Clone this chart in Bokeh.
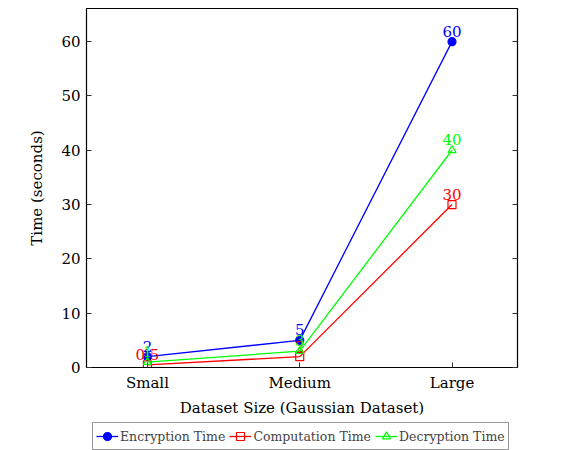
from bokeh.plotting import figure
from bokeh.layouts import column
from bokeh.models import ColumnDataSource, FixedTicker, LinearAxis, Range1d, Legend, LegendItem
from bokeh.embed import file_html
from bokeh.resources import INLINE
from bokeh.core.properties import value

categories = ["Small", "Medium", "Large"]
encryption = [2, 5, 60]
computation = [0.5, 2, 30]
decryption = [1, 3, 40]
y_ticks = [0, 10, 20, 30, 40, 50, 60]

FONT = "DejaVu Serif"
BLUE, RED, GREEN = "#0000ff", "#ff0000", "#00ff00"

xs = list(range(len(categories)))

p = figure(frame_width=431, frame_height=359, output_backend="svg", toolbar_location=None,
           x_range=Range1d(-0.4, 2.43), y_range=Range1d(0, 66.1),
           min_border_left=86, min_border_right=45, min_border_top=8, min_border_bottom=0)
p.grid.visible = False
p.outline_line_color = "black"
p.outline_line_width = 1.2
p.background_fill_color = "white"
p.border_fill_color = "white"

def style_axis(ax):
    ax.axis_line_color = "black"
    ax.major_tick_in = 5
    ax.major_tick_out = 0
    ax.minor_tick_line_color = None
    ax.major_tick_line_color = "#333333"
    ax.major_label_text_font = FONT
    ax.major_label_text_font_size = "15px"
    ax.major_label_text_color = "black"
    ax.axis_label_text_font = FONT
    ax.axis_label_text_font_size = "15px"
    ax.axis_label_text_font_style = "normal"
    ax.axis_label_text_color = "black"

p.xaxis.ticker = FixedTicker(ticks=xs)
p.xaxis.major_label_overrides = {i: c for i, c in enumerate(categories)}
p.xaxis.axis_label = "Dataset Size (Gaussian Dataset)"
p.yaxis.ticker = FixedTicker(ticks=y_ticks)
p.yaxis.axis_label = "Time (seconds)"
style_axis(p.xaxis[0])
style_axis(p.yaxis[0])
p.xaxis.major_label_standoff = 6
p.xaxis.axis_label_standoff = 4
p.yaxis.major_label_standoff = 6
p.yaxis.axis_label_standoff = 12

ra = LinearAxis(ticker=FixedTicker(ticks=y_ticks), major_label_overrides={t: "" for t in y_ticks})
style_axis(ra)
ra.major_label_standoff = 0
p.add_layout(ra, "right")

# thin strip below the chart that only carries the legend (its data sits off-view)
p2 = figure(width=562, height=33, output_backend="svg", toolbar_location=None,
            x_range=Range1d(0, 1), y_range=Range1d(-1000, -999),
            x_axis_location=None, y_axis_location=None,
            min_border_left=0, min_border_right=0, min_border_top=0, min_border_bottom=0)
p2.grid.visible = False
p2.outline_line_color = None
p2.border_fill_color = "white"
p2.background_fill_color = "white"

items = []
series = [("Encryption Time", encryption, BLUE, "circle"),
          ("Computation Time", computation, RED, "square"),
          ("Decryption Time", decryption, GREEN, "triangle")]
for name, vals, col, mk in series:
    src = ColumnDataSource(dict(x=xs, y=vals, t=[str(v) for v in vals]))
    p.line("x", "y", source=src, line_color=col, line_width=1.3)
    fill = col if mk == "circle" else None
    p.scatter("x", "y", source=src, marker=mk, size=8, line_color=col,
              fill_color=fill, line_width=1.2)
    p.text("x", "y", text="t", source=src, text_color=col, text_font=value(FONT),
           text_font_size="15px", text_align="center", text_baseline="bottom",
           y_offset=-5)
    l2 = p2.line("x", "y", source=src, line_color=col, line_width=1.3)
    s2 = p2.scatter("x", "y", source=src, marker=mk, size=7, line_color=col,
                    fill_color=fill, line_width=1.2)
    items.append(LegendItem(label=name, renderers=[l2, s2]))

legend = Legend(items=items, orientation="horizontal", location=(6, 2),
                label_text_font=FONT, label_text_font_size="12.5px",
                border_line_color="#333333", border_line_width=1.5,
                glyph_width=22, spacing=4, padding=3, margin=0,
                label_standoff=2, label_height=20, glyph_height=20)
p2.add_layout(legend, "center")

layout = column(p, p2, spacing=0)
open("out.html", "w").write(file_html(layout, INLINE))
